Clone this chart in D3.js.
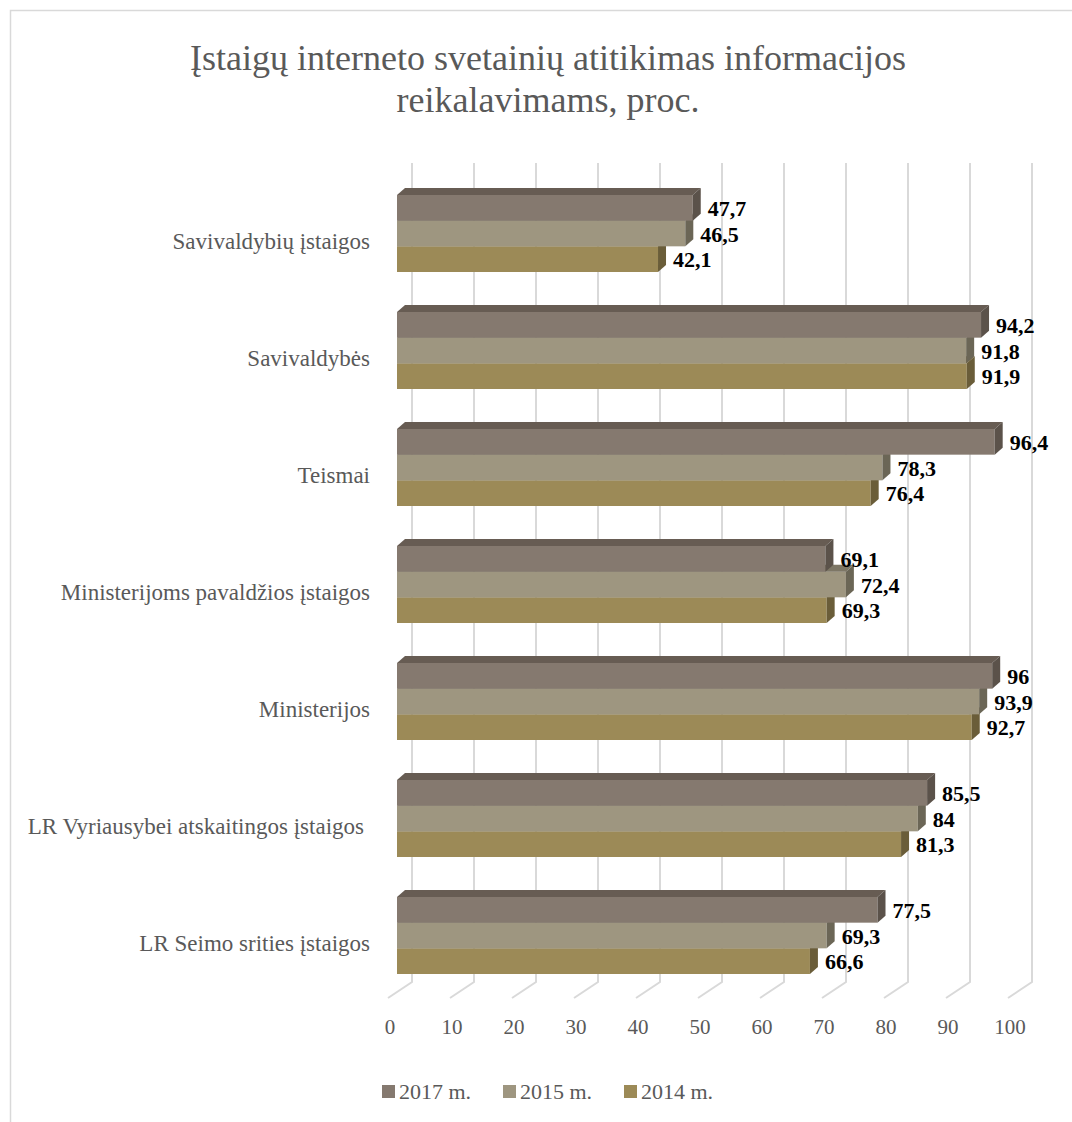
<!DOCTYPE html>
<html>
<head>
<meta charset="utf-8">
<script src="https://cdn.jsdelivr.net/npm/d3@7"></script>
<style>
  html, body { margin: 0; padding: 0; background: #fff; }
  svg { display: block; }
</style>
</head>
<body>
<svg id="chart" width="1072" height="1122"></svg>
<script>
// ---- Data ----
const categories = [
  "Savivaldybių įstaigos",
  "Savivaldybės",
  "Teismai",
  "Ministerijoms pavaldžios įstaigos",
  "Ministerijos",
  "LR Vyriausybei atskaitingos įstaigos",
  "LR Seimo srities įstaigos"
];
const seriesNames = ["2017 m.", "2015 m.", "2014 m."];
const values2017 = [47.7, 94.2, 96.4, 69.1, 96, 85.5, 77.5];
const values2015 = [46.5, 91.8, 78.3, 72.4, 93.9, 84, 69.3];
const values2014 = [42.1, 91.9, 76.4, 69.3, 92.7, 81.3, 66.6];
const tickValues = [0, 10, 20, 30, 40, 50, 60, 70, 80, 90, 100];
const titleLines = ["Įstaigų interneto svetainių atitikimas informacijos", "reikalavimams, proc."];

const seriesValues = [values2017, values2015, values2014];
const frontColors = ["#85796f", "#9e9680", "#9c8a57"];
const topColors   = ["#675c53", "#7d7665", "#7b6c43"];
const sideColors  = ["#5b524a", "#6b6656", "#6a5d39"];

const svg = d3.select("#chart");
const serif = "'Liberation Serif', 'DejaVu Serif', serif";

// chart border
svg.append("rect").attr("x", 10.5).attr("y", 10.5).attr("width", 1070).attr("height", 1120)
  .attr("fill", "none").attr("stroke", "#d9d9d9").attr("stroke-width", 1.5);

// title
svg.append("g").selectAll("text").data(titleLines).join("text")
  .attr("x", 548).attr("y", (d, i) => 70 + i * 42)
  .attr("text-anchor", "middle")
  .attr("font-family", serif).attr("font-size", 36).attr("fill", "#595959")
  .text(d => d);

// scales
const x = d3.scaleLinear().domain([0, 100]).range([397, 1017]);
const y = d3.scaleBand().domain(categories).range([175, 994])
  .paddingInner(40 / 117).paddingOuter(20 / 117);
const ySub = d3.scaleBand().domain(seriesNames).range([0, y.bandwidth()]);

const dx = 8, dy = -7;
const wallTop = 163, floorBackY = 982, floorFrontY = 998;

// gridlines (back wall + floor)
const grid = svg.append("g");
tickValues.forEach(v => {
  const xb = x(v) + 15;
  grid.append("path")
    .attr("d", `M${xb},${wallTop} L${xb},${floorBackY} L${xb - 24},${floorFrontY}`)
    .attr("fill", "none").attr("stroke", "#d9d9d9").attr("stroke-width", 2);
});

// tick labels
svg.append("g").selectAll("text").data(tickValues).join("text")
  .attr("x", v => x(v) - 7).attr("y", 1034)
  .attr("text-anchor", "middle")
  .attr("font-family", serif).attr("font-size", 21).attr("fill", "#595959")
  .text(d => d);

// bars: draw bottom series first
const barsG = svg.append("g");
for (let s = seriesNames.length - 1; s >= 0; s--) {
  categories.forEach((c, i) => {
    const v = seriesValues[s][i];
    const y0 = y(c) + ySub(seriesNames[s]);
    const y1 = y0 + ySub.bandwidth();
    const x0 = x(0), xv = x(v);
    const g = barsG.append("g");
    g.append("rect").attr("x", x0).attr("y", y0).attr("width", xv - x0).attr("height", y1 - y0)
      .attr("fill", frontColors[s]);
    g.append("path")
      .attr("d", `M${x0},${y0} L${x0 + dx},${y0 + dy} L${xv + dx},${y0 + dy} L${xv},${y0} Z`)
      .attr("fill", topColors[s]);
    g.append("path")
      .attr("d", `M${xv},${y0} L${xv + dx},${y0 + dy} L${xv + dx},${y1 + dy} L${xv},${y1} Z`)
      .attr("fill", sideColors[s]);
  });
}

// value labels
categories.forEach((c, i) => {
  seriesNames.forEach((sn, s) => {
    const v = seriesValues[s][i];
    const yc = y(c) + ySub(sn) + ySub.bandwidth() / 2;
    svg.append("text")
      .attr("x", x(v) + dx + 7).attr("y", yc + 8)
      .attr("font-family", serif).attr("font-size", 22).attr("font-weight", "bold").attr("fill", "#000")
      .text(String(v).replace(".", ","));
  });
});

// category labels
svg.append("g").selectAll("text").data(categories).join("text")
  .attr("x", (d, i) => i === 5 ? 364 : 370).attr("y", c => y(c) + y.bandwidth() / 2 + 15)
  .attr("text-anchor", "end")
  .attr("font-family", serif).attr("font-size", 23).attr("fill", "#595959")
  .text(d => d);

// legend
const legendX = [382, 503, 624];
const lg = svg.append("g");
seriesNames.forEach((sn, s) => {
  lg.append("rect").attr("x", legendX[s]).attr("y", 1085).attr("width", 13).attr("height", 13)
    .attr("fill", frontColors[s]);
  lg.append("text").attr("x", legendX[s] + 17).attr("y", 1099)
    .attr("font-family", serif).attr("font-size", 22).attr("fill", "#595959")
    .text(sn);
});
</script>
</body>
</html>
